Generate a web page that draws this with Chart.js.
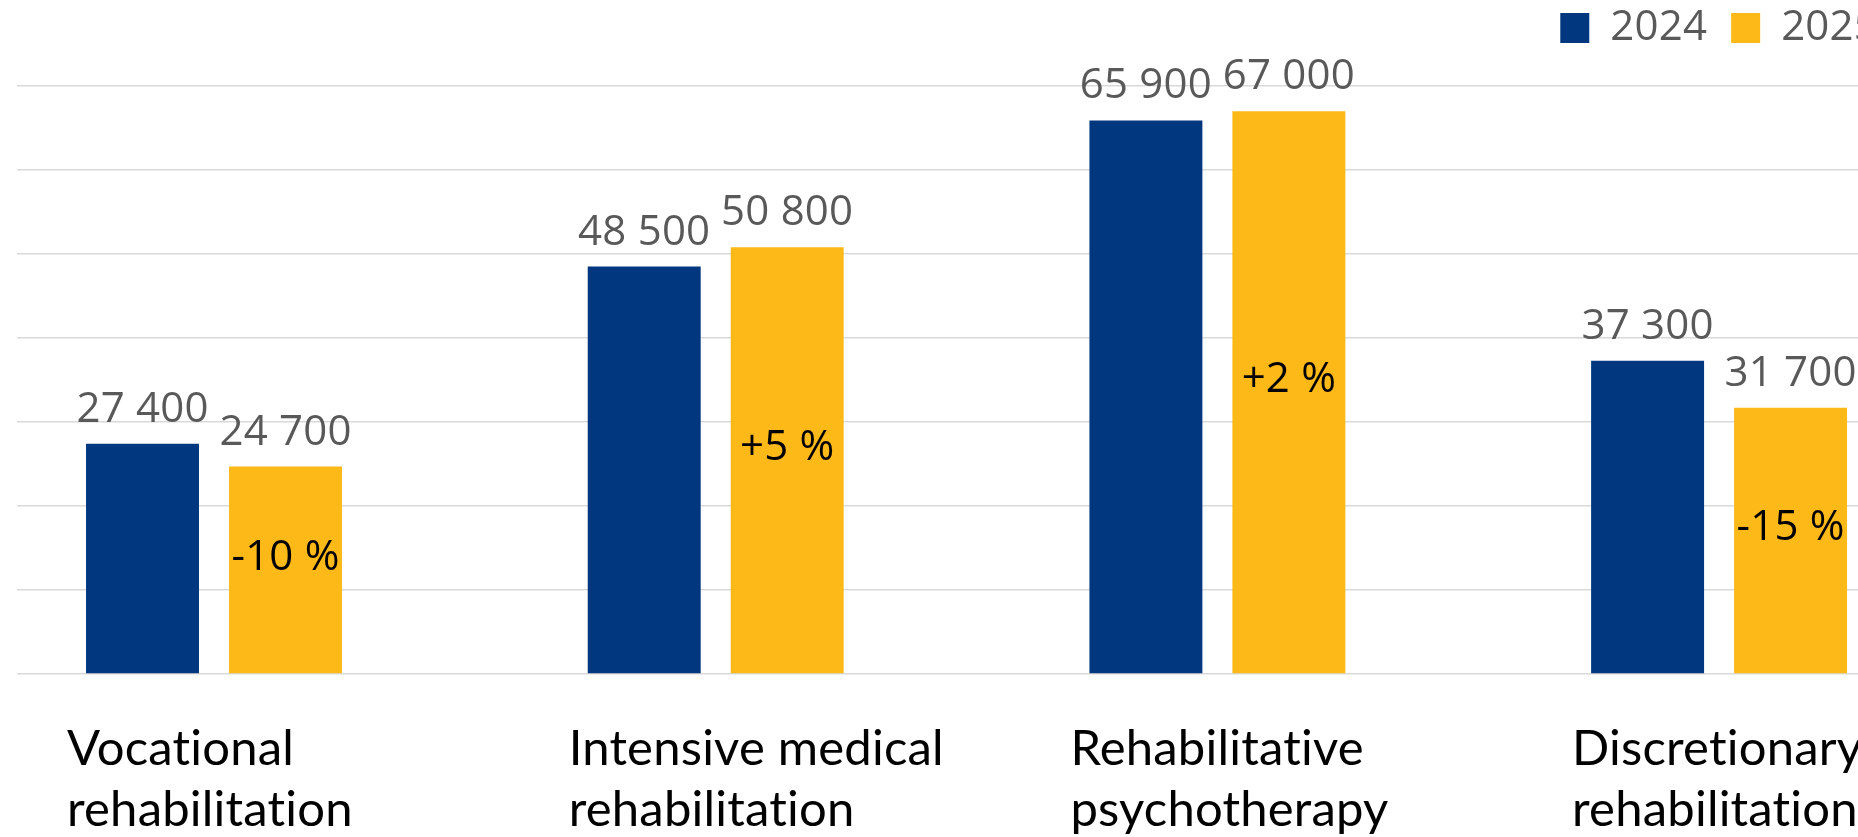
<!DOCTYPE html>
<html><head><meta charset="utf-8">
<script src="https://cdn.jsdelivr.net/npm/chart.js@4.4.1/dist/chart.umd.min.js"></script>
<style>
html,body{margin:0;padding:0;background:#fff;overflow:hidden;width:1858px;height:837px;}
#wrap{position:relative;width:1902px;height:837px;}
canvas{display:block;}
</style></head><body>
<div id="wrap"><canvas id="c" width="1902" height="837"></canvas></div>
<script>
// ---- data ----
const categories = [
  ['Vocational', 'rehabilitation'],
  ['Intensive medical', 'rehabilitation'],
  ['Rehabilitative', 'psychotherapy'],
  ['Discretionary', 'rehabilitation']
];
const seriesNames = ['2024', '2025'];
const values2024 = [27400, 48500, 65900, 37300];
const values2025 = [24700, 50800, 67000, 31700];
const changeLabels = ['-10 %', '+5 %', '+2 %', '-15 %'];
const yTicks = [0, 10000, 20000, 30000, 40000, 50000, 60000, 70000];

// ---- style ----
const BLUE = '#00377F';
const YELLOW = '#FDB917';
const NUM_FONT = '"Open Sans", "Noto Sans", sans-serif';
const CAT_FONT = 'Lato, "Open Sans", sans-serif';

function fmt(v) { return String(v).replace(/\B(?=(\d{3})+(?!\d))/g, ' '); }

// tiny letter spacing so Lato does not form "ti" ligatures; set before layout so measuring is consistent
const noLigatures = {
  id: 'noLigatures',
  beforeUpdate(chart) { chart.ctx.letterSpacing = '0.2px'; },
  beforeDraw(chart) { chart.ctx.letterSpacing = '0.2px'; }
};

const barLabels = {
  id: 'barLabels',
  afterDatasetsDraw(chart) {
    const ctx = chart.ctx;
    ctx.save();
    ctx.font = '42px ' + NUM_FONT;
    ctx.textAlign = 'center';
    ctx.textBaseline = 'alphabetic';
    chart.data.datasets.forEach((ds, di) => {
      const meta = chart.getDatasetMeta(di);
      meta.data.forEach((bar, i) => {
        ctx.fillStyle = '#595959';
        ctx.fillText(fmt(ds.data[i].y), bar.x, bar.y - 22);
      });
    });
    const meta2 = chart.getDatasetMeta(1);
    meta2.data.forEach((bar, i) => {
      ctx.fillStyle = '#000000';
      ctx.fillText(changeLabels[i], bar.x, (bar.y + bar.base) / 2);
    });
    ctx.restore();
  }
};

function build() {
  new Chart(document.getElementById('c'), {
    type: 'bar',
    data: {
      datasets: [
        { label: seriesNames[0], data: values2024.map((v, i) => ({ x: i, y: v })), backgroundColor: BLUE },
        { label: seriesNames[1], data: values2025.map((v, i) => ({ x: i, y: v })), backgroundColor: YELLOW }
      ]
    },
    options: {
      responsive: false,
      animation: false,
      devicePixelRatio: 1,
      categoryPercentage: 0.570,
      barPercentage: 0.790,
      layout: { padding: { left: 17, right: 0, top: -17, bottom: 0 } },
      plugins: {
        tooltip: { enabled: false },
        legend: {
          position: 'top',
          align: 'end',
          labels: {
            boxWidth: 29, boxHeight: 30, padding: 24,
            color: '#595959',
            font: { family: NUM_FONT, size: 42 }
          }
        }
      },
      scales: {
        x: {
          type: 'linear',
          min: -0.3927,
          max: 3.3646,
          offset: false,
          grid: { display: false, drawTicks: false },
          border: { display: false },
          afterBuildTicks: (s) => { s.ticks = categories.map((c, i) => ({ value: i })); },
          afterFit: (s) => { s.paddingLeft = 0; s.paddingRight = 0; s.height = 163; },
          ticks: {
            autoSkip: false, minRotation: 0, maxRotation: 0,
            align: 'start', labelOffset: -147, padding: 44,
            color: '#000000',
            font: { family: CAT_FONT, size: 49, lineHeight: '61.7px' },
            callback: (v) => categories[v]
          }
        },
        y: {
          min: 0,
          max: 73214,
          border: { display: false },
          grid: { color: '#D9D9D9', lineWidth: 1.5, drawTicks: false },
          afterBuildTicks: (s) => { s.ticks = yTicks.map(v => ({ value: v })); },
          ticks: { display: false }
        }
      }
    },
    plugins: [noLigatures, barLabels]
  });
}

Promise.all([
  document.fonts.load('42px "Open Sans"'),
  document.fonts.load('49px Lato')
]).catch(() => {}).then(build);
</script>
</body></html>
